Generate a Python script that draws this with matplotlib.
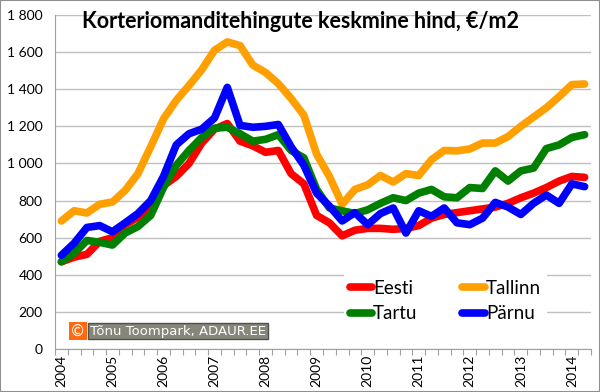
import matplotlib
matplotlib.use('Agg')
from matplotlib import pyplot as plt
from matplotlib.patches import Rectangle
import numpy as np

# kvartalid 2004 Q1 ... 2014 Q2
years = [str(y) for y in range(2004, 2015)]
n_quarters = 42

eesti = [470, 495, 510, 580, 600, 670, 710, 760, 880, 930, 1000, 1110,
         1185, 1215, 1120, 1095, 1060, 1070, 945, 890, 720, 680, 610, 640,
         650, 650, 645, 650, 665, 705, 725, 735, 745, 755, 765, 785,
         815, 840, 870, 905, 930, 925]
tallinn = [690, 745, 733, 780, 792, 855, 945, 1090, 1240, 1340, 1420, 1505,
           1610, 1655, 1635, 1530, 1490, 1430, 1350, 1260, 1050, 930, 780, 860,
           885, 935, 900, 945, 935, 1020, 1070, 1068, 1078, 1110, 1110, 1145,
           1200, 1250, 1300, 1360, 1425, 1428]
tartu = [470, 515, 585, 575, 560, 625, 660, 720, 870, 990, 1070, 1140,
         1190, 1195, 1160, 1120, 1130, 1155, 1070, 1030, 860, 760, 745, 730,
         750, 785, 815, 800, 840, 860, 820, 815, 870, 865, 960, 905,
         960, 975, 1080, 1100, 1140, 1155]
parnu = [505, 570, 655, 665, 632, 680, 730, 800, 930, 1100, 1160, 1185,
         1245, 1410, 1205, 1195, 1200, 1210, 1090, 990, 840, 770, 690, 735,
         670, 730, 760, 625, 745, 715, 760, 680, 670, 705, 790, 765,
         725, 785, 830, 785, 890, 875]

series = [('Eesti', eesti, '#ff0000'),
          ('Tallinn', tallinn, '#ffa000'),
          ('Tartu', tartu, '#008000'),
          ('Pärnu', parnu, '#0000ff')]

plt.rcParams['font.family'] = ['Lato', 'DejaVu Sans']

fig = plt.figure(figsize=(6, 3.92), dpi=100)
ax = fig.add_axes([55 / 600, 1 - 349 / 392, 536 / 600, 334 / 392])

x = np.arange(n_quarters)
lines = {}
for name, vals, col in series:
    lines[name], = ax.plot(x, vals, color=col, lw=5.5, label=name,
                           solid_joinstyle='round', solid_capstyle='round')

ax.set_xlim(-0.5, n_quarters - 0.5)
ax.set_ylim(0, 1800)
yt = np.arange(0, 1801, 200)
ax.set_yticks(yt, [f'{v:,}'.replace(',', ' ') for v in yt], fontsize=10)
ax.tick_params(axis='y', length=0, pad=9)
ax.yaxis.grid(True, color='#c0c0c0', lw=1)
ax.set_axisbelow(True)

# kategooriate piirid + aastate sildid
ax.set_xticks(np.arange(-0.5, n_quarters, 1))
ax.set_xticklabels([])
ax.tick_params(axis='x', which='major', length=4, color='#a0a0a0')
ax.set_xticks(np.arange(0, n_quarters, 4), years, minor=True)
ax.tick_params(axis='x', which='minor', length=0, pad=4, labelsize=10,
               labelrotation=90)

for s in ['top', 'right']:
    ax.spines[s].set_visible(False)
for s in ['left', 'bottom']:
    ax.spines[s].set_color('#a0a0a0')

ax.text((82 - 55) / 536, (349 - 28) / 334,
        'Korteriomanditehingute keskmine hind, €/m2',
        transform=ax.transAxes, fontsize=15.5, fontweight='bold', va='baseline')

# legend reakaupa: Eesti, Tallinn / Tartu, Pärnu
order = ['Eesti', 'Tartu', 'Tallinn', 'Pärnu']
leg = ax.legend([lines[k] for k in order], order, ncol=2, loc='center',
                bbox_to_anchor=(0.728, 0.143),
                fontsize=13.5, handlelength=1.2, handletextpad=0.05,
                columnspacing=2.4, labelspacing=0.45, frameon=True,
                fancybox=False, borderpad=0.3)
leg.get_frame().set_facecolor('white')
leg.get_frame().set_edgecolor('none')
leg.get_frame().set_alpha(1)

# autoriõiguse silt
ax.text((90 - 55) / 536, (349 - 331) / 334, 'Tõnu Toompark, ADAUR.EE',
        transform=ax.transAxes, fontsize=9.5, color='white',
        family='DejaVu Sans', va='center', ha='left',
        bbox=dict(boxstyle='square,pad=0.15', fc='#86867a', ec='#505050', lw=1))
ax.text((78 - 55) / 536, (349 - 331) / 334, '©',
        transform=ax.transAxes, fontsize=11, color='white',
        family='DejaVu Sans', va='center', ha='center',
        bbox=dict(boxstyle='square,pad=0.12', fc='#ff6a10', ec='none'))

fig.patches.append(Rectangle((0, 0), 1, 1, transform=fig.transFigure,
                             fill=False, ec='#909090', lw=1.5))

plt.savefig('out.png', dpi=100)
